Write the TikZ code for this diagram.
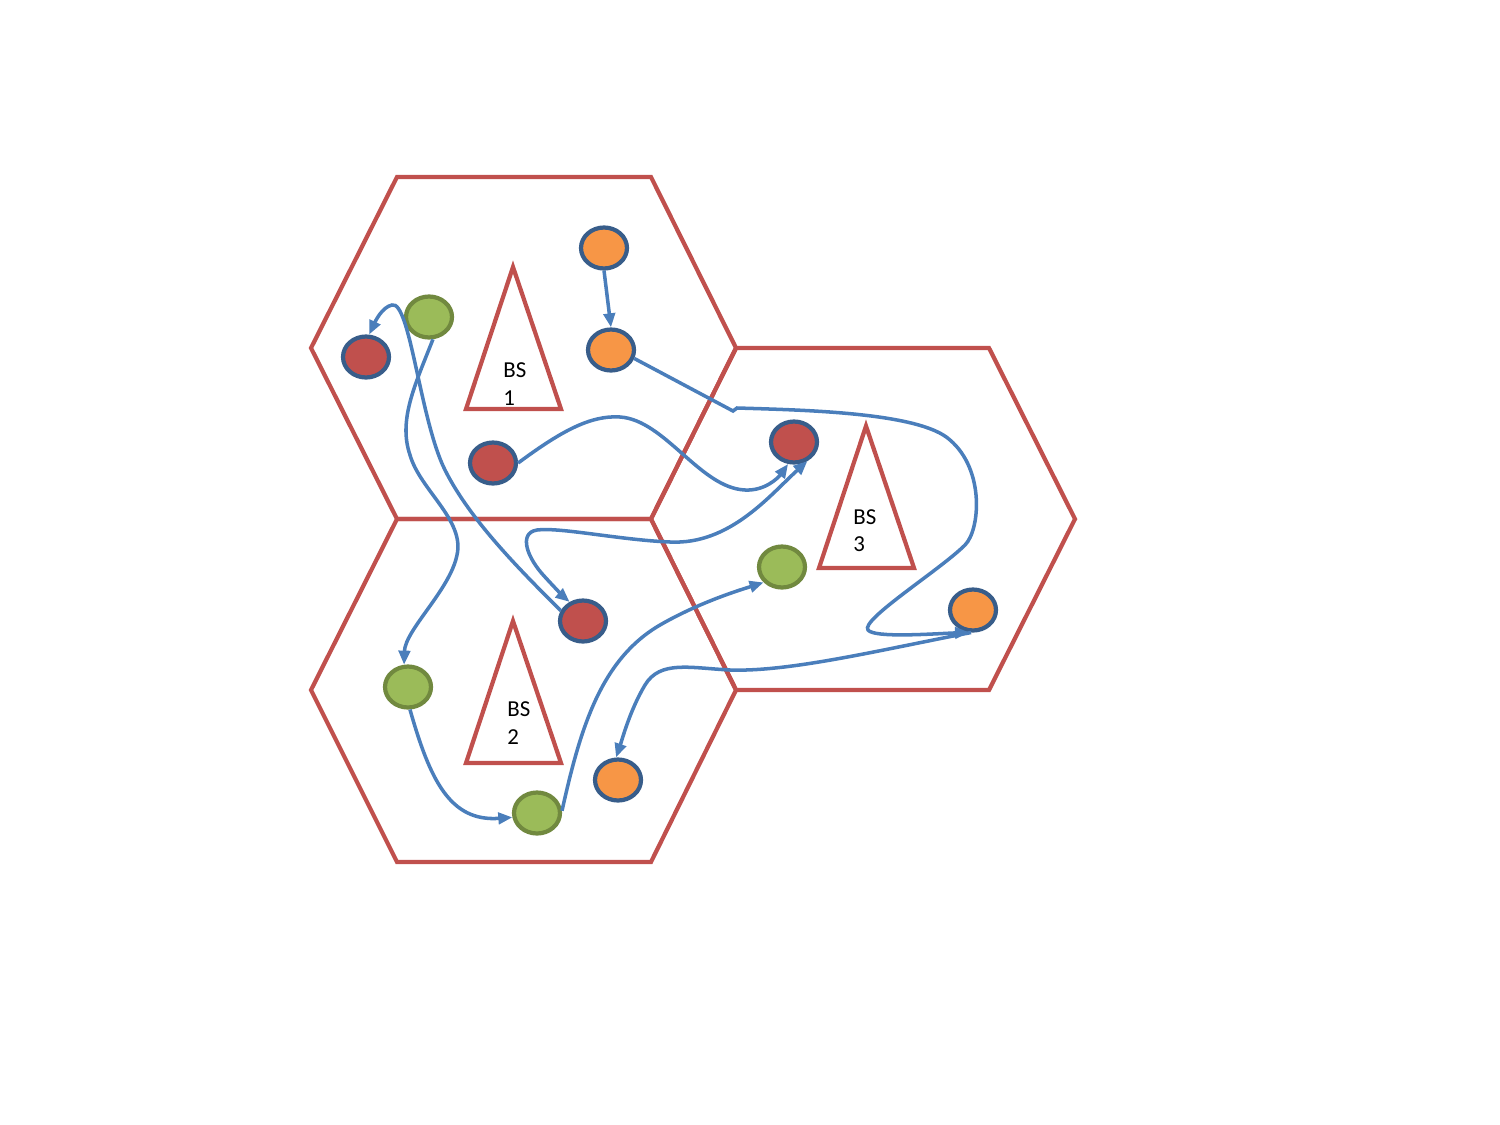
\documentclass[tikz,border=0pt]{standalone}
\usepackage{fontspec}
\setmainfont{Carlito}
\usepackage{tikz}
\usetikzlibrary{shapes.geometric, arrows.meta}

\definecolor{hexrouge}{HTML}{C0504D}
\definecolor{bordbleu}{HTML}{385D8A}
\definecolor{usorange}{HTML}{F79646}
\definecolor{usrouge}{HTML}{C0504D}
\definecolor{usvert}{HTML}{9BBB59}
\definecolor{bordvert}{HTML}{71893F}
\definecolor{lienbleu}{HTML}{4A7EBB}

\begin{document}
\begin{tikzpicture}[x=0.02cm, y=-0.02cm, >={Triangle[length=8pt,width=6.5pt]},
    cellule/.style={draw=hexrouge, line width=2.4pt},
    usager/.style={ellipse, draw=bordbleu, line width=2.4pt, minimum width=0.92cm, minimum height=0.82cm, inner sep=0pt},
    vertus/.style={usager, draw=bordvert, fill=usvert},
    bstexte/.style={font=\fontsize{13}{15.5}\selectfont, align=left, anchor=west, inner sep=0pt},
    lien/.style={draw=lienbleu, line width=2pt}]
            \useasboundingbox (0,0) rectangle (1500,1125);

            % Cellules hexagonales
            \draw[cellule] (397,177) -- (651,177) -- (736,348) -- (651,519) -- (397,519) -- (311,348) -- cycle;
            \draw[cellule] (397,519) -- (651,519) -- (736,690) -- (651,862) -- (397,862) -- (311,690) -- cycle;
            \draw[cellule] (736,348) -- (989,348) -- (1075,519) -- (989,690) -- (736,690) -- (651,519) -- cycle;

            % Stations de base
            \draw[cellule] (513,267) -- (561,409) -- (466,409) -- cycle;
            \node[bstexte] (bs1) at (503,384) {BS\\1};
            \draw[cellule] (513,621) -- (561,763) -- (466,763) -- cycle;
            \node[bstexte] (bs2) at (507,723) {BS\\2};
            \draw[cellule] (866,426) -- (914,568) -- (819,568) -- cycle;
            \node[bstexte] (bs3) at (853,531) {BS\\3};

            % Usagers
            \node[usager, fill=usorange] (o1) at (604,248) {};
            \node[usager, fill=usorange] (o2) at (611,350) {};
            \node[usager, fill=usorange] (o3) at (973,610) {};
            \node[usager, fill=usorange] (o4) at (618,780) {};
            \node[usager, fill=usrouge] (r1) at (366,357) {};
            \node[usager, fill=usrouge] (r2) at (493,463) {};
            \node[usager, fill=usrouge] (r3) at (794,442) {};
            \node[usager, fill=usrouge] (r4) at (583,621) {};
            \node[vertus] (g1) at (429,317) {};
            \node[vertus] (g2) at (408,687) {};
            \node[vertus] (g3) at (537,813) {};
            \node[vertus] (g4) at (782,567) {};

            % Trajets
            \draw[lien, ->] (o1.south) -- (o2.north);
            \draw[lien, ->] (o2.-20) -- (733,411) -- (737,408)
                .. controls (800,410) and (920,412) .. (950,440)
                .. controls (985,470) and (980,530) .. (965,545)
                .. controls (940,570) and (860,620) .. (868,630)
                .. controls (874,638) and (930,634) .. (o3.-100);
            \draw[lien, ->] (r2.east) .. controls (560,432) and (590,415) .. (620,417)
                .. controls (665,420) and (700,488) .. (745,490)
                .. controls (765,491) and (778,478) .. (r3.-105);
            \draw[lien, <->] (r3.-55) .. controls (770,495) and (730,545) .. (670,542)
                .. controls (620,540) and (560,527) .. (537,530)
                .. controls (518,533) and (527,558) .. (545,577)
                .. controls (555,588) and (565,598) .. (r4.125);
            \draw[lien, ->] (r4.155) .. controls (520,570) and (470,520) .. (445,470)
                .. controls (420,420) and (410,300) .. (392,305)
                .. controls (382,307) and (375,322) .. (r1.82);
            \draw[lien, ->] (g1.-80) .. controls (415,385) and (398,420) .. (410,455)
                .. controls (420,490) and (465,520) .. (457,555)
                .. controls (450,590) and (405,630) .. (g2.100);
            \draw[lien, ->] (g2.-85) .. controls (430,780) and (450,822) .. (g3.190);
            \draw[lien, ->] (g3.5) .. controls (580,730) and (600,660) .. (660,625)
                .. controls (700,602) and (740,590) .. (g4.220);
            \draw[lien, ->] (o3.-95) .. controls (880,650) and (790,672) .. (730,670)
                .. controls (690,668) and (660,660) .. (645,685)
                .. controls (630,710) and (622,740) .. (o4.95);
        \end{tikzpicture}
\end{document}
